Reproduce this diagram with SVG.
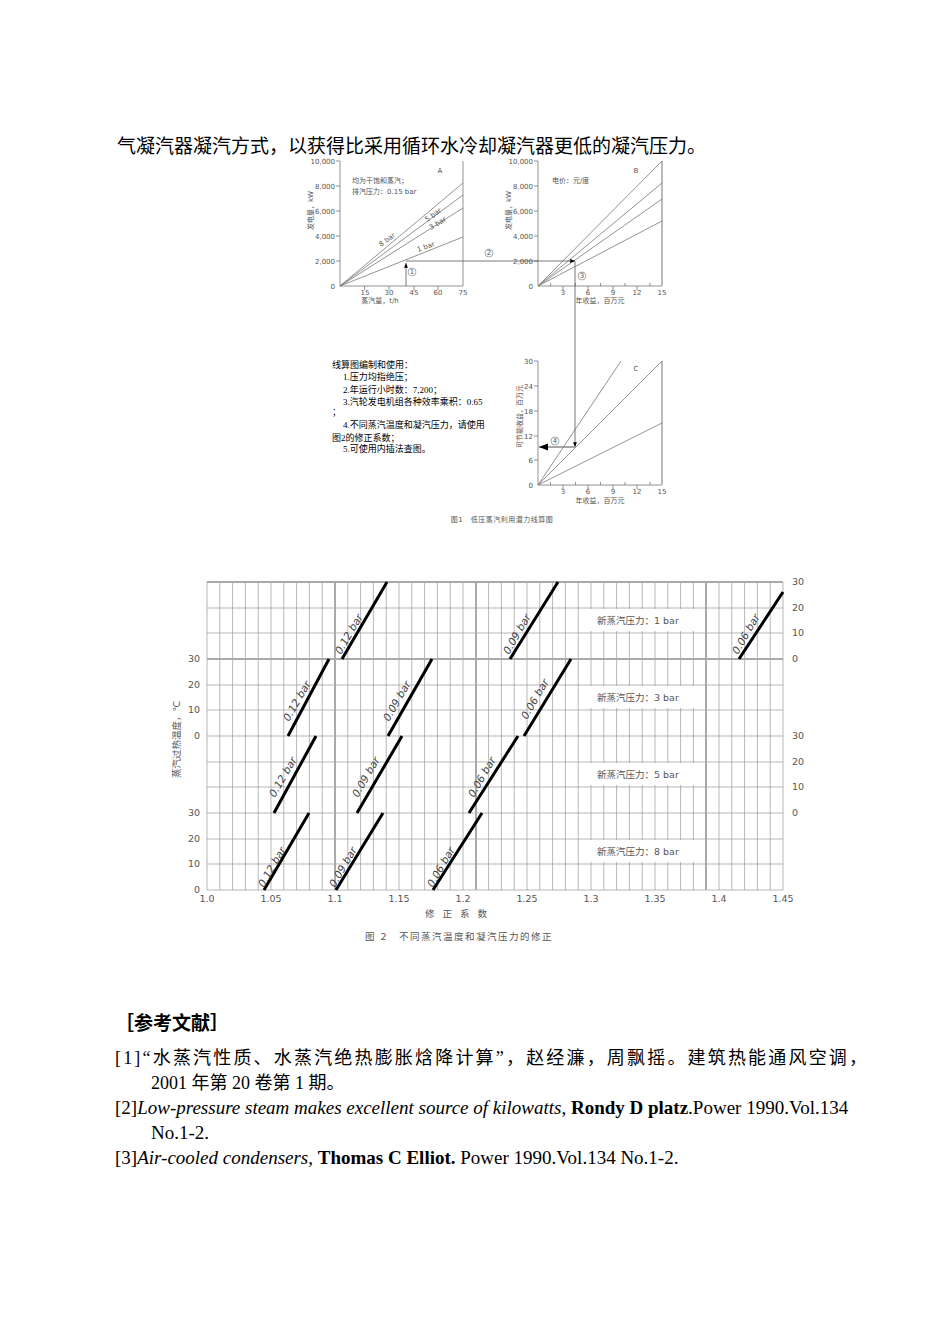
<svg xmlns="http://www.w3.org/2000/svg" width="950" height="1344" viewBox="0 0 950 1344">
<style>
.s{font-family:"Liberation Serif","Noto Sans CJK SC",serif;fill:#000}
.g{font-family:"DejaVu Sans","Noto Sans CJK SC",sans-serif;fill:#555;font-size:7px}
.gl{stroke:#777;stroke-width:0.8;fill:none}
.gr{stroke:#999;stroke-width:0.7;fill:none}
.hv{stroke:#000;stroke-width:3;fill:none}
.f2{font-family:"DejaVu Sans","Noto Sans CJK SC",sans-serif;fill:#555;font-size:9.5px}
.lb{font-family:"DejaVu Sans",sans-serif;fill:#444;font-size:10.5px;font-style:italic}
</style>
<defs><marker id="ah" viewBox="0 0 10 10" refX="10" refY="5" markerWidth="6" markerHeight="6" orient="auto"><path d="M0,1 L10,5 L0,9z" fill="#000"/></marker></defs>
<text class="s" x="117" y="153" font-size="19">气凝汽器凝汽方式，以获得比采用循环水冷却凝汽器更低的凝汽压力。</text>

<g id="chartA">
<path class="gl" d="M340,161V286H463M463,161V286"/>
<path class="gl" d="M336,161H340M336,186H340M336,211H340M336,236H340M336,261H340M364.6,286v4M389,286v4M414,286v4M438,286v4"/>
<g class="g" text-anchor="end"><text x="335" y="164">10,000</text><text x="335" y="189">8,000</text><text x="335" y="214">6,000</text><text x="335" y="239">4,000</text><text x="335" y="264">2,000</text><text x="335" y="289">0</text></g>
<g class="g" text-anchor="middle"><text x="365" y="295">15</text><text x="389" y="295">30</text><text x="414" y="295">45</text><text x="438" y="295">60</text><text x="463" y="295">75</text><text x="380" y="303">蒸汽量，t/h</text><text x="440" y="173">A</text></g>
<text class="g" x="352" y="183" font-size="6">均为干饱和蒸汽；</text><text class="g" x="352" y="194">排汽压力：0.15 bar</text>
<path class="gl" d="M340,286L463,183M340,286L463,195M340,286L463,208M340,286L463,237"/>
<text class="g" transform="translate(381,247) rotate(-36)">8 bar</text>
<text class="g" transform="translate(427,222) rotate(-35)">5 bar</text>
<text class="g" transform="translate(431,230) rotate(-31)">3 bar</text>
<text class="g" transform="translate(418,252) rotate(-20)">1 bar</text>
<text class="g" transform="translate(313,230) rotate(-90)">发电量，kW</text>
</g>

<g id="chartB">
<path class="gl" d="M538,161V286H662"/><path stroke="#bbb" stroke-width="2" d="M662,161V286"/>
<path class="gl" d="M534,161H538M534,186H538M534,211H538M534,236H538M534,261H538M550.5,286v-3M563,286v4M575.5,286v-3M588,286v4M600.5,286v-3M613,286v4M625,286v-3M637,286v4M650,286v-3"/>
<g class="g" text-anchor="end"><text x="533" y="164">10,000</text><text x="533" y="189">8,000</text><text x="533" y="214">6,000</text><text x="533" y="239">4,000</text><text x="533" y="264">2,000</text><text x="533" y="289">0</text></g>
<g class="g" text-anchor="middle"><text x="563" y="295">3</text><text x="588" y="295">6</text><text x="613" y="295">9</text><text x="637" y="295">12</text><text x="662" y="295">15</text><text x="600" y="303">年收益，百万元</text><text x="636" y="173">B</text></g>
<text class="g" x="552" y="183" font-size="6">电价：元/度</text>
<path class="gl" d="M538,286L662,161M538,286L662,183M538,286L662,199M538,286L662,221"/>
<text class="g" transform="translate(511,230) rotate(-90)">发电量，kW</text>
</g>

<g id="chartC">
<path class="gl" d="M538,361V485H662"/><path stroke="#bbb" stroke-width="2" d="M662,361V485"/>
<path class="gl" d="M534,361H538M534,386H538M534,411H538M534,436H538M534,460H538M550.5,485v-3M563,485v4M575.5,485v-3M588,485v4M600.5,485v-3M613,485v4M625,485v-3M637,485v4M650,485v-3"/>
<g class="g" text-anchor="end"><text x="533" y="364">30</text><text x="533" y="389">24</text><text x="533" y="414">18</text><text x="533" y="439">12</text><text x="533" y="463">6</text><text x="533" y="488">0</text></g>
<g class="g" text-anchor="middle"><text x="563" y="494">3</text><text x="588" y="494">6</text><text x="613" y="494">9</text><text x="637" y="494">12</text><text x="662" y="494">15</text><text x="600" y="503">年收益，百万元</text><text x="636" y="371">C</text></g>
<path class="gl" d="M538,485L621,361M538,485L662,361M538,485L662,423"/>
<text class="g" transform="translate(522,448) rotate(-90)" font-size="6">可节能收益，百万元</text>
</g>

<g id="connectors">
<path stroke="#555" stroke-width="0.8" fill="none" d="M406,286V263" marker-end="url(#ah)"/>
<path stroke="#555" stroke-width="0.8" fill="none" d="M406,261H575" marker-end="url(#ah)"/>
<path stroke="#555" stroke-width="0.8" fill="none" d="M575,261V447" marker-end="url(#ah)"/>
<path stroke="#888" stroke-width="1.5" fill="none" d="M575,447H539" marker-end="url(#ah)"/>
<g class="g" font-size="6" text-anchor="middle">
<circle cx="412" cy="272" r="4" fill="none" stroke="#555" stroke-width="0.5"/><text x="412" y="274">1</text>
<circle cx="489" cy="253" r="4" fill="none" stroke="#555" stroke-width="0.5"/><text x="489" y="255">2</text>
<circle cx="582" cy="276" r="4" fill="none" stroke="#555" stroke-width="0.5"/><text x="582" y="278">3</text>
<circle cx="555" cy="441" r="4" fill="none" stroke="#555" stroke-width="0.5"/><text x="555" y="443">4</text>
</g>
</g>

<g class="s" font-size="9">
<text x="332" y="368">线算图编制和使用：</text>
<text x="343" y="380">1.压力均指绝压；</text>
<text x="343" y="393">2.年运行小时数：7,200；</text>
<text x="343" y="405">3.汽轮发电机组各种效率乘积：0.65</text>
<text x="332" y="415">；</text>
<text x="343" y="428">4.不同蒸汽温度和凝汽压力，请使用</text>
<text x="332" y="441">图2的修正系数；</text>
<text x="343" y="452">5.可使用内插法查图。</text>
</g>
<text class="g" x="502" y="522" text-anchor="middle" letter-spacing="0.5">图1　低压蒸汽利用潜力线算图</text>

<g id="fig2">
<g class="gr">
<path d="M207,608H783M207,633H783M207,685H783M207,710H783M207,736H783M207,762H783M207,787H783M207,813H783M207,839H783M207,864H783M207,890H783"/>
<path d="M207,582V890M219.8,582V890M232.6,582V890M245.4,582V890M258.2,582V890M271,582V890M283.8,582V890M296.6,582V890M309.4,582V890M322.2,582V890M347.8,582V890M360.6,582V890M373.4,582V890M386.2,582V890M399,582V890M411.8,582V890M424.6,582V890M437.4,582V890M450.2,582V890M463,582V890M488.6,582V890M501.4,582V890M514.2,582V890M527,582V890M539.8,582V890M552.6,582V890M565.4,582V890M578.2,582V890M591,582V890M603.8,582V890M616.6,582V890M629.4,582V890M642.2,582V890M655,582V890M667.8,582V890M680.6,582V890M693.4,582V890M719,582V890M731.8,582V890M744.6,582V890M757.4,582V890M770.2,582V890M783,582V890"/>
</g>
<path stroke="#aaa" stroke-width="2" d="M335,582V890M476,582V890M706,582V890M207,582H783M207,659H783"/>
<g fill="#fff"><rect x="590" y="609" width="115" height="22"/><rect x="590" y="686" width="115" height="22"/><rect x="590" y="763" width="115" height="22"/><rect x="590" y="840" width="115" height="22"/></g>
<g class="f2" font-size="11.5"><text x="597" y="624">新蒸汽压力：1  bar</text><text x="597" y="701">新蒸汽压力：3  bar</text><text x="597" y="778">新蒸汽压力：5  bar</text><text x="597" y="855">新蒸汽压力：8  bar</text></g>
<path class="hv" d="M342,659L387,582M510,659L558,582M739,659L783,592M288,736L329,659M388,736L432,659M524,736L571,659M274,813L316,736M357,813L402,736M469,813L518,736M264,890L309,813M336,890L383,813M433,890L482,813"/>
<g class="lb">
<text transform="translate(341,655) rotate(-60)">0.12 bar</text>
<text transform="translate(509,655) rotate(-60)">0.09 bar</text>
<text transform="translate(738,655) rotate(-60)">0.06 bar</text>
<text transform="translate(289,722) rotate(-60)">0.12 bar</text>
<text transform="translate(389,722) rotate(-60)">0.09 bar</text>
<text transform="translate(527,720) rotate(-60)">0.06 bar</text>
<text transform="translate(275,798) rotate(-60)">0.12 bar</text>
<text transform="translate(358,798) rotate(-60)">0.09 bar</text>
<text transform="translate(474,798) rotate(-60)">0.06 bar</text>
<text transform="translate(264,888) rotate(-60)">0.12 bar</text>
<text transform="translate(335,888) rotate(-60)">0.09 bar</text>
<text transform="translate(433,888) rotate(-60)">0.06 bar</text>
</g>
<g class="f2" text-anchor="end"><text x="200" y="662">30</text><text x="200" y="688">20</text><text x="200" y="713">10</text><text x="200" y="739">0</text><text x="200" y="816">30</text><text x="200" y="842">20</text><text x="200" y="867">10</text><text x="200" y="893">0</text></g>
<g class="f2"><text x="792" y="585">30</text><text x="792" y="611">20</text><text x="792" y="636">10</text><text x="792" y="662">0</text><text x="792" y="739">30</text><text x="792" y="765">20</text><text x="792" y="790">10</text><text x="792" y="816">0</text></g>
<g class="f2" text-anchor="middle"><text x="207" y="902">1.0</text><text x="271" y="902">1.05</text><text x="335" y="902">1.1</text><text x="399" y="902">1.15</text><text x="463" y="902">1.2</text><text x="527" y="902">1.25</text><text x="591" y="902">1.3</text><text x="655" y="902">1.35</text><text x="719" y="902">1.4</text><text x="783" y="902">1.45</text></g>
<text class="f2" x="460" y="917" text-anchor="middle" font-size="13" letter-spacing="8">修正系数</text>
<text class="f2" x="459" y="940" text-anchor="middle" font-size="13" letter-spacing="1.5" fill="#888">图 2　不同蒸汽温度和凝汽压力的修正</text>
<text class="f2" transform="translate(180,778) rotate(-90)" font-size="10.5" fill="#888">蒸汽过热温度，℃</text>
</g>

<g class="s">
<text x="115" y="1030" font-size="19" font-weight="bold">［参考文献］</text>
<text x="115" y="1064" font-size="18" textLength="752" lengthAdjust="spacing">[1]“水蒸汽性质、水蒸汽绝热膨胀焓降计算”，赵经濂，周飘摇。建筑热能通风空调，</text>
<text x="151" y="1089" font-size="18">2001 年第 20 卷第 1 期。</text>
<text x="115" y="1114" font-size="19">[2]<tspan font-style="italic">Low-pressure steam makes excellent source of kilowatts</tspan>, <tspan font-weight="bold">Rondy D platz</tspan>.Power 1990.Vol.134</text>
<text x="151" y="1139" font-size="19">No.1-2.</text>
<text x="115" y="1164" font-size="19">[3]<tspan font-style="italic">Air-cooled condensers</tspan>, <tspan font-weight="bold">Thomas C Elliot.</tspan> Power 1990.Vol.134 No.1-2.</text>
</g>
</svg>
